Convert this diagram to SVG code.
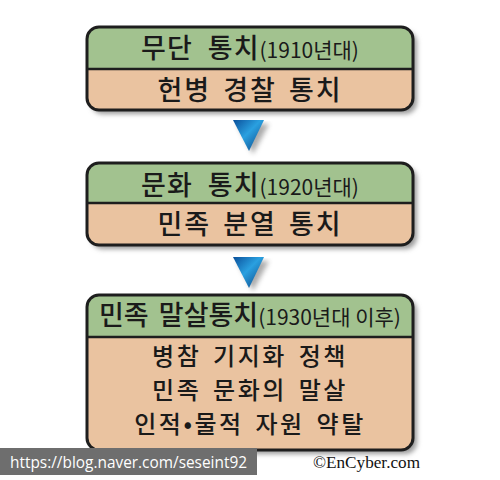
<svg xmlns="http://www.w3.org/2000/svg" width="500" height="480" viewBox="0 0 500 480">
<defs>
<linearGradient id="tri" x1="0" y1="0" x2="1" y2="1">
<stop offset="0" stop-color="#0a4f9a"/>
<stop offset="0.45" stop-color="#2aa0e0"/>
<stop offset="1" stop-color="#0a3f80"/>
</linearGradient>
<filter id="sh" x="-10%" y="-10%" width="130%" height="140%">
<feGaussianBlur stdDeviation="2.5"/>
</filter>
</defs>
<style>
.shadow{fill:#9a9a9a;filter:url(#sh)}
.green{fill:#a2c28f}
.tan{fill:#eac3a0}
.frame{fill:none;stroke:#1e1e1e;stroke-width:3}
.div{stroke:#1e1e1e;stroke-width:2.5}
.t{font-family:"Noto Sans CJK KR","Noto Sans",sans-serif;fill:#1a1a1a;text-anchor:middle}
.big{font-size:27px;font-weight:500}
.body{font-size:24px;font-weight:500}
.sm{font-size:21px;font-weight:400}
</style>
<rect width="500" height="480" fill="#ffffff"/>
<g id="connectors">
<polygon points="237,124 269,124 253,154" fill="#888" filter="url(#sh)" opacity="0.7"/>
<polygon points="233,120 264,120 249,151" fill="url(#tri)"/>
<polygon points="237,261 269,261 253,291" fill="#888" filter="url(#sh)" opacity="0.7"/>
<polygon points="233,257 264,257 249,288" fill="url(#tri)"/>
</g>
<g id="node1">
<rect class="shadow" x="91" y="31" width="326" height="83" rx="12"/>
<path class="green" d="M99,27 H401 A12,12 0 0 1 413,39 V69 H87 V39 A12,12 0 0 1 99,27 Z"/>
<path class="tan" d="M87,69 H413 V98 A12,12 0 0 1 401,110 H99 A12,12 0 0 1 87,98 Z"/>
<line class="div" x1="87" y1="69" x2="413" y2="69"/>
<rect class="frame" x="87" y="27" width="326" height="83" rx="12"/>
<text class="t" x="250" y="58"><tspan class="big" letter-spacing="1" word-spacing="8">무단 통치</tspan><tspan class="sm">(1910년대)</tspan></text>
<text class="t big" x="250" y="100" letter-spacing="2" word-spacing="4">헌병 경찰 통치</text>
</g>
<g id="node2">
<rect class="shadow" x="91" y="167" width="326" height="82" rx="12"/>
<path class="green" d="M99,163 H401 A12,12 0 0 1 413,175 V203 H87 V175 A12,12 0 0 1 99,163 Z"/>
<path class="tan" d="M87,203 H413 V233 A12,12 0 0 1 401,245 H99 A12,12 0 0 1 87,233 Z"/>
<line class="div" x1="87" y1="203" x2="413" y2="203"/>
<rect class="frame" x="87" y="163" width="326" height="82" rx="12"/>
<text class="t" x="250" y="195"><tspan class="big" letter-spacing="1" word-spacing="8">문화 통치</tspan><tspan class="sm">(1920년대)</tspan></text>
<text class="t big" x="250" y="234" letter-spacing="2" word-spacing="4">민족 분열 통치</text>
</g>
<g id="node3">
<rect class="shadow" x="91" y="299" width="326" height="155" rx="12"/>
<path class="green" d="M99,295 H401 A12,12 0 0 1 413,307 V337 H87 V307 A12,12 0 0 1 99,295 Z"/>
<path class="tan" d="M87,337 H413 V438 A12,12 0 0 1 401,450 H99 A12,12 0 0 1 87,438 Z"/>
<line class="div" x1="87" y1="337" x2="413" y2="337"/>
<rect class="frame" x="87" y="295" width="326" height="155" rx="12"/>
<text class="t" x="250" y="325"><tspan class="big" word-spacing="4">민족 말살통치</tspan><tspan class="sm">(1930년대 이후)</tspan></text>
<text class="t body" x="250" y="365" letter-spacing="2.5" word-spacing="4">병참 기지화 정책</text>
<text class="t body" x="250" y="399" letter-spacing="2.5" word-spacing="4">민족 문화의 말살</text>
<text class="t body" x="250" y="433" letter-spacing="2.5" word-spacing="4">인적•물적 자원 약탈</text>
</g>
<rect x="0" y="448" width="257" height="27" fill="#6e6e6e"/>
<text x="10" y="468" font-family="'Open Sans','Noto Sans',sans-serif" font-size="17" fill="#ffffff" textLength="237" lengthAdjust="spacingAndGlyphs">https://blog.naver.com/seseint92</text>
<text x="313" y="468" font-family="'Liberation Serif',serif" font-size="16" fill="#111" textLength="107" lengthAdjust="spacingAndGlyphs">©EnCyber.com</text>
</svg>
